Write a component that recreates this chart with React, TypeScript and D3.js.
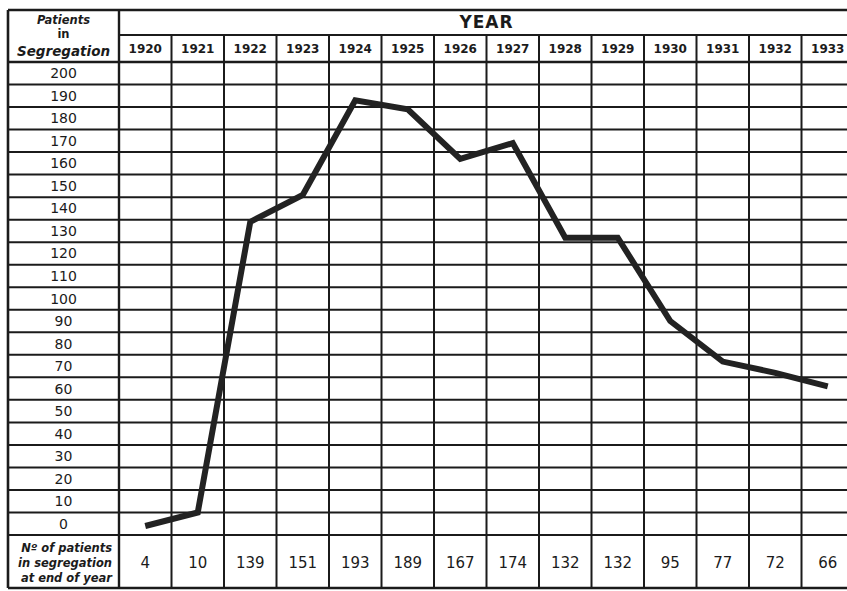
import React from "react";
import * as d3 from "d3";

const years = ["1920","1921","1922","1923","1924","1925","1926","1927","1928","1929","1930","1931","1932","1933"];
const patients = [4, 10, 139, 151, 193, 189, 167, 174, 132, 132, 95, 77, 72, 66];
const yTicks = d3.range(0, 201, 10);
const headerLines = ["Patients", "in", "Segregation"];
const footerLines = ["Nº of patients", "in segregation", "at end of year"];

const W = 847, H = 591;
const left = 8, labelRight = 119, top = 10, yearTop = 35, gridTop = 62, gridBottom = 535, bottom = 588;
const colW = 52.5;

export default function App() {
  const x = d3.scaleBand<string>().domain(years).range([labelRight, labelRight + colW * years.length]);
  const y = d3.scaleLinear().domain([0, 200]).range([gridBottom, gridBottom - 200 * (gridBottom - gridTop) / 210]);
  const right = labelRight + colW * years.length;
  const line = d3.line<number>()
    .x((_, i) => (x(years[i]) as number) + x.bandwidth() / 2)
    .y((d) => y(d));
  const ink = "#1b1b1b";
  const font = "'DejaVu Sans', sans-serif";
  const rowH = y(0) - y(10);
  return (
    <svg width={W} height={H} style={{ position: "absolute", left: 0, top: 0, background: "#fff" }} fontFamily={font}>
      <rect x={0} y={0} width={W} height={H} fill="#fff" />
      {yTicks.map((v) => (
        <line key={"h" + v} x1={left} x2={right} y1={y(v)} y2={y(v)} stroke={ink} strokeWidth={2} />
      ))}
      <line x1={left} x2={right} y1={gridTop} y2={gridTop} stroke={ink} strokeWidth={2.4} />
      <line x1={labelRight} x2={right} y1={yearTop} y2={yearTop} stroke={ink} strokeWidth={2} />
      <line x1={left} x2={right} y1={top} y2={top} stroke={ink} strokeWidth={2.6} />
      <line x1={left} x2={right} y1={bottom} y2={bottom} stroke={ink} strokeWidth={2.6} />
      <line x1={left} x2={left} y1={top} y2={bottom} stroke={ink} strokeWidth={2.6} />
      <line x1={labelRight} x2={labelRight} y1={top} y2={bottom} stroke={ink} strokeWidth={2.4} />
      {years.map((yr) => (
        <line key={"v" + yr} x1={(x(yr) as number) + colW} x2={(x(yr) as number) + colW} y1={yearTop} y2={bottom} stroke={ink} strokeWidth={2} />
      ))}
      <text x={(labelRight + right) / 2} y={28} textAnchor="middle" fontSize={17} fontWeight={600} letterSpacing={1} fill={ink}>YEAR</text>
      {years.map((yr) => (
        <text key={"t" + yr} x={(x(yr) as number) + colW / 2} y={53} textAnchor="middle" fontSize={12} fontWeight={600} fill={ink}>{yr}</text>
      ))}
      {headerLines.map((t, i) => (
        <text key={"hl" + i} x={(left + labelRight) / 2} y={[24, 38, 56][i]} textAnchor="middle" fontSize={[11.5, 11.5, 13.5][i]} fontStyle={i === 1 ? "normal" : "italic"} fontWeight={600} fill={ink}>{t}</text>
      ))}
      {yTicks.map((v) => (
        <text key={"yl" + v} x={(left + labelRight) / 2} y={y(v) - rowH / 2 + 5} textAnchor="middle" fontSize={14} fontWeight={500} fill={ink}>{v}</text>
      ))}
      {footerLines.map((t, i) => (
        <text key={"fl" + i} x={112} y={552 + i * 15} textAnchor="end" fontSize={11.5} fontStyle="italic" fontWeight={600} fill={ink}>{t}</text>
      ))}
      {years.map((yr, i) => (
        <text key={"fv" + yr} x={(x(yr) as number) + colW / 2} y={568} textAnchor="middle" fontSize={15} fontWeight={500} fill={ink}>{patients[i]}</text>
      ))}
      <path d={line(patients) as string} fill="none" stroke="#222" strokeWidth={6} strokeLinejoin="miter" strokeLinecap="butt" />
    </svg>
  );
}
